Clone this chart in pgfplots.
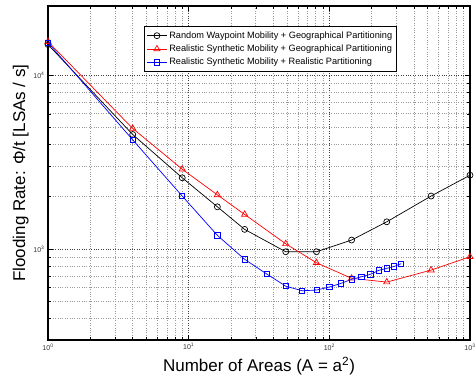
\documentclass[border=0pt]{standalone}
\usepackage{fontspec}
\setmainfont{Liberation Sans}
\usepackage{pgfplots}
\pgfplotsset{compat=1.18}
\begin{document}
\begin{tikzpicture}
\begin{loglogaxis}[
  scale only axis, width=422pt, height=334pt,
  xmin=1, xmax=1000, ymin=300, ymax=25000,
  log basis x=10, log basis y=10,
  grid=both,
  major grid style={dotted, line width=0.6pt, black!75},
  minor grid style={dotted, line width=0.6pt, black!40},
  axis line style={line width=1.2pt, black},
  tick align=inside,
  major tick length=5pt, minor tick length=3pt,
  tick style={black, line width=0.5pt},
  xticklabel={\pgfmathparse{int(round(\tick))}10\textsuperscript{\pgfmathresult}},
  yticklabel={\pgfmathparse{int(round(\tick))}10\textsuperscript{\pgfmathresult}},
  ticklabel style={font=\fontsize{7}{8}\selectfont, text=black!80},
  xlabel={Number of Areas (A = a\textsuperscript{2})},
  ylabel={Flooding Rate: Φ/t [LSAs / s]},
  label style={font=\fontsize{17}{20}\selectfont},
  ylabel style={yshift=-2pt},
  legend style={at={(axis description cs:0.527,0.940)}, anchor=north,
    font=\fontsize{9.2}{11}\selectfont, draw=black, line width=1.1pt,
    row sep=1.2pt, inner xsep=2pt, inner ysep=3pt, cells={anchor=west}},
  legend image code/.code={\draw[#1, line width=0.7pt] (0pt,0pt) -- (20pt,0pt); \draw[#1, line width=0.7pt, only marks] plot coordinates {(10pt,0pt)};},
]
\addplot[black, line width=0.7pt, mark=o, mark size=3pt, mark options={solid, fill=none}] coordinates {
(1,15000) (4,4560) (9,2570) (16,1750) (25,1298) (49,965) (81,965) (144,1127) (256,1435) (529,2018) (1000,2660)
};
\addlegendentry{Random Waypoint Mobility + Geographical Partitioning}
\addplot[red, line width=0.7pt, mark=triangle, mark size=3.6pt, mark options={solid, fill=none}] coordinates {
(1,15600) (4,4940) (9,2880) (16,2050) (25,1582) (49,1072) (81,834) (144,679) (256,646) (529,757) (1000,903)
};
\addlegendentry{Realistic Synthetic Mobility + Geographical Partitioning}
\addplot[blue, line width=0.7pt, mark=square, mark size=2.6pt, mark options={solid, fill=none}] coordinates {
(1,15400) (4,4250) (9,2018) (16,1199) (25,873) (36,718) (49,612) (64,576) (81,581) (100,605) (121,635) (144,670) (169,693) (196,716) (225,755) (256,775) (289,795) (324,824)
};
\addlegendentry{Realistic Synthetic Mobility + Realistic Partitioning}
\end{loglogaxis}
\pgfresetboundingbox
\path[use as bounding box] (-48pt,-46pt) rectangle (428pt,340pt);
\end{tikzpicture}
\end{document}
